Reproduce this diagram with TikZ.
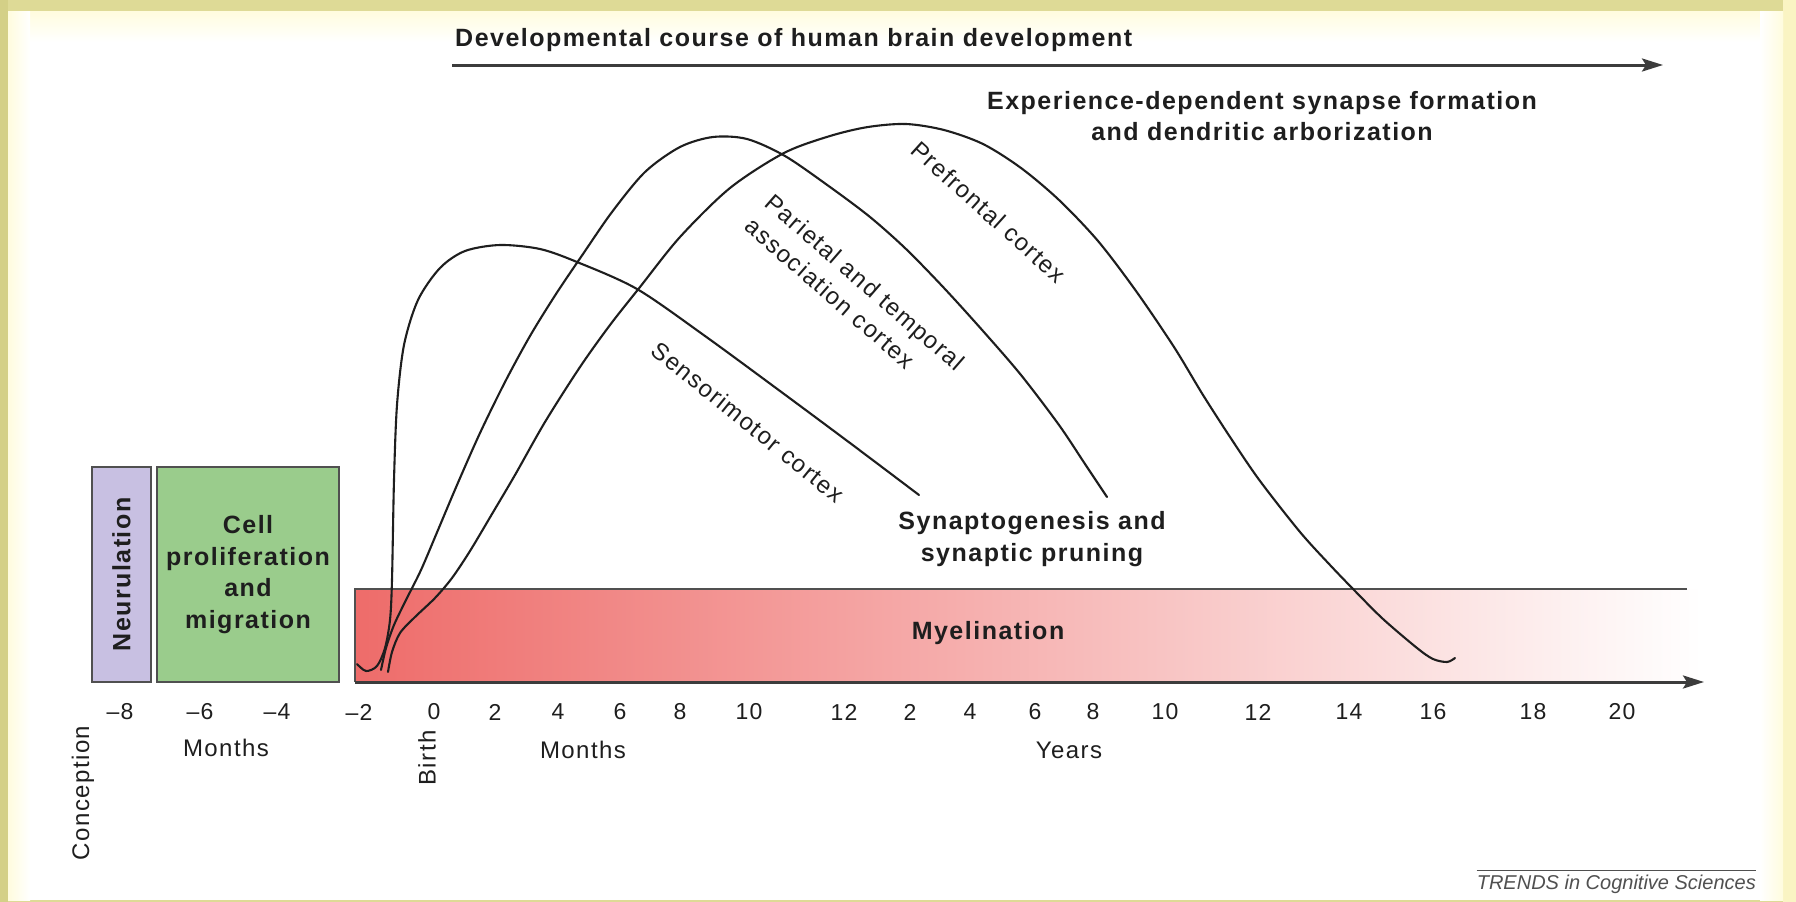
\documentclass[tikz,border=0pt]{standalone}
\usepackage{fontspec}
\setmainfont{Liberation Sans}[LetterSpace=6]
\newfontfamily\trendsfont{Liberation Sans}
\usetikzlibrary{arrows.meta}
\definecolor{frameA}{RGB}{222,218,150}
\definecolor{frameL}{RGB}{212,208,135}
\definecolor{frameR}{RGB}{250,244,195}
\definecolor{cream}{RGB}{255,252,222}
\definecolor{neurfill}{RGB}{200,192,226}
\definecolor{cellfill}{RGB}{154,204,140}
\definecolor{boxline}{RGB}{80,80,80}
\definecolor{myelA}{RGB}{238,108,106}
\definecolor{myelB}{RGB}{245,165,160}
\definecolor{txt}{RGB}{30,30,30}
\definecolor{axisc}{RGB}{60,60,60}
\definecolor{trendc}{RGB}{80,80,80}
\begin{document}
\begin{tikzpicture}[x=1pt,y=-1pt,
  boldtxt/.style={font=\fontsize{25}{31.5}\selectfont\bfseries, text=txt, inner sep=0pt},
  regtxt/.style={font=\fontsize{24}{31}\selectfont, text=txt, inner sep=0pt},
  ticktxt/.style={font=\fontsize{23}{28}\selectfont, text=txt, inner sep=0pt},
  phasebox/.style={draw=boxline, line width=2pt, inner sep=0pt, font=\fontsize{25}{31.5}\selectfont\bfseries, text=txt},
  curve/.style={line width=2.1pt, draw=txt, line cap=round, line join=round},
  arr/.style={line width=3pt, draw=axisc, -{Stealth[length=21pt,width=13pt,inset=4pt]}}]
\useasboundingbox (0,0) rectangle (1796,902);
% frame
\fill[frameA] (0,0) rectangle (1796,902);
\fill[frameL] (0,0) rectangle (8,902);
\fill[frameR] (1783,0) rectangle (1796,902);
\fill[white] (8,11) rectangle (1783,900);
\shade[top color=cream, bottom color=white] (8,11) rectangle (1783,42);
\shade[left color=cream, right color=white] (8,11) rectangle (30,900);
\shade[left color=white, right color=cream] (1760,11) rectangle (1783,900);

% title and top arrow
\node[boldtxt, anchor=west] (title) at (455,40) {Developmental course of human brain development};
\coordinate (topA) at (452,65);
\coordinate (topB) at (1663,65);
\draw[arr] (topA) -- (topB);
\node[boldtxt, align=center] (exper) at (1262,116) {Experience-dependent synapse formation\\and dendritic arborization};

% prenatal boxes
\node[phasebox, fill=neurfill, minimum width=215pt, minimum height=59pt, rotate=90] (neur) at (121.5,574.5) {Neurulation};
\node[phasebox, fill=cellfill, minimum width=182pt, minimum height=215pt, align=center] (cell) at (248,574.5) {Cell\\proliferation\\and\\migration};

% myelination band
\shade[left color=myelA, middle color=myelB, right color=white] (355,589) rectangle (1702,682);
\coordinate (myTR) at (1687,589);
\coordinate (myTL) at (355,589);
\coordinate (myBL) at (355,682);
\coordinate (axEnd) at (1704,682);
\draw[boxline, line width=2.5pt] (myTR) -- (myTL) -- (myBL);
\draw[arr] (myBL) -- (axEnd);
\node[boldtxt] (myel) at (988,633) {Myelination};

% curves
\draw[curve] plot[smooth, tension=0.5] coordinates {(357,664) (366,671) (377,666) (385,648) (390,620) (392,580) (394,480) (397,405) (404,345) (418,300) (440,268) (465,251) (500,245) (540,249) (577,262) (637,289) (705,336) (780,391) (850,443) (919,495)};
\draw[curve] plot[smooth, tension=0.5] coordinates {(381,670) (386,648) (394,625) (406,600) (421,570) (438,530) (457,485) (480,433) (505,382) (530,336) (556,294) (583,254) (612,212) (645,172) (680,147) (713,137) (747,139) (785,156) (830,187) (870,217) (906,249) (944,288) (983,331) (1021,375) (1059,425) (1085,464) (1107,497)};
\draw[curve] plot[smooth, tension=0.5] coordinates {(388,672) (392,652) (400,633) (415,617) (435,598) (452,578) (470,551) (492,514) (515,475) (545,422) (580,367) (610,325) (640,287) (680,237) (730,188) (784,153) (830,136) (868,127) (906,124) (944,130) (983,144) (1021,168) (1059,200) (1098,241) (1136,291) (1174,347) (1203,395) (1232,440) (1260,481) (1300,532) (1330,565) (1355,591) (1383,619) (1417,648) (1433,659) (1447,662) (1455,658)};

% curve labels
\node[regtxt, rotate=-42] (pref) at (989,212) {Prefrontal cortex};
\node[regtxt, rotate=-41, align=left] (pariet) at (855,294) {Parietal and temporal\\association cortex};
\node[regtxt, rotate=-39] (senso) at (748,422) {Sensorimotor cortex};
\node[boldtxt, align=center] (synap) at (1032,539) {Synaptogenesis and\\synaptic pruning};

% tick labels
\foreach \x/\t in {120/–8, 200/–6, 277/–4, 359/–2, 434/0, 495/2, 558/4, 620/6, 680/8, 749/10, 844/12, 910/2, 970/4, 1035/6, 1093/8, 1165/10, 1258/12, 1349/14, 1433/16, 1533/18, 1622/20}
  \node[ticktxt] (tick\x) at (\x,712) {\t};
\node[regtxt] (mon1) at (226,748) {Months};
\node[regtxt] (mon2) at (583,750) {Months};
\node[regtxt] (years) at (1069,750) {Years};
\node[regtxt, rotate=90] (birth) at (427,758) {Birth};
\node[regtxt, rotate=90] (concep) at (83,793) {Conception};

% footer
\node[font=\trendsfont\itshape\fontsize{20}{24}\selectfont, text=trendc, anchor=east, inner sep=0pt] (trends) at (1756,884) {TRENDS in Cognitive Sciences};
\draw[trendc, line width=1.5pt] ([yshift=4pt]trends.north west) -- ([yshift=4pt]trends.north east);
\end{tikzpicture}
\end{document}
